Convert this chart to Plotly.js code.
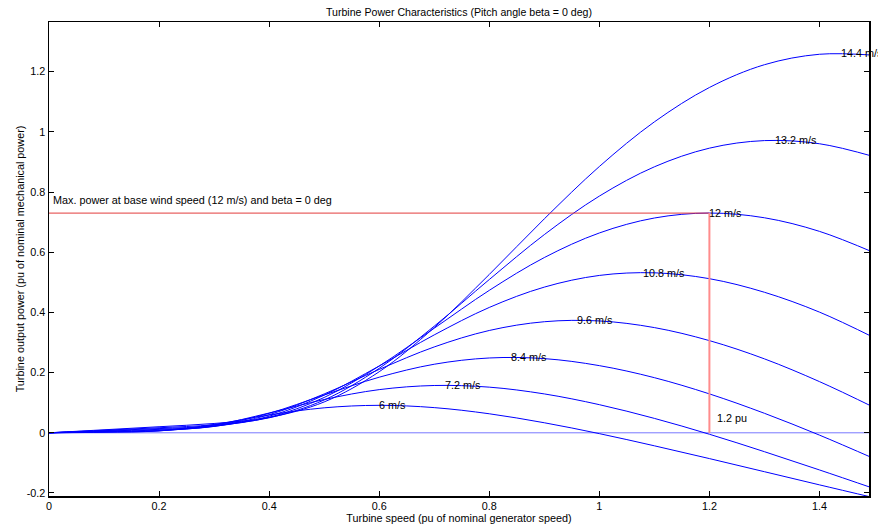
<!DOCTYPE html>
<html>
<head>
<meta charset="utf-8">
<script src="https://cdn.plot.ly/plotly-3.0.1.min.js"></script>
<style>html,body{margin:0;padding:0;background:#fff;}#chart{width:878px;height:528px;}</style>
</head>
<body>
<div id="chart"></div>
<script>
// Turbine speed (pu of nominal generator speed)
const speed = [0, 0.1, 0.2, 0.3, 0.4, 0.5, 0.6, 0.7, 0.8, 0.9, 1.0, 1.1, 1.2, 1.3, 1.4, 1.5];

// Turbine output power (pu) for each wind speed
const p6   = [0, 0.0018, 0.0064, 0.0277, 0.0592, 0.0830, 0.0913, 0.0837, 0.0632, 0.0334, -0.0028, -0.0432, -0.0857, -0.1293, -0.1730, -0.2161];
const p7_2 = [0, 0.0025, 0.0064, 0.0254, 0.0658, 0.1106, 0.1434, 0.1572, 0.1517, 0.1292, 0.0935, 0.0479, -0.0048, -0.0628, -0.1234, -0.1857];
const p8_4 = [0, 0.0034, 0.0074, 0.0226, 0.0648, 0.1255, 0.1847, 0.2278, 0.2486, 0.2465, 0.2232, 0.1832, 0.1293, 0.0648, -0.0077, -0.0863];
const p9_6 = [0, 0.0045, 0.0092, 0.0211, 0.0601, 0.1291, 0.2106, 0.2853, 0.3400, 0.3691, 0.3717, 0.3496, 0.3063, 0.2457, 0.1701, 0.0836];
const p10_8 = [0, 0.0057, 0.0114, 0.0215, 0.0550, 0.1251, 0.2220, 0.3253, 0.4165, 0.4841, 0.5229, 0.5316, 0.5121, 0.4670, 0.4010, 0.3155];
const p12  = [0, 0.0070, 0.0140, 0.0234, 0.0513, 0.1174, 0.2219, 0.3475, 0.4733, 0.5823, 0.6640, 0.7137, 0.7302, 0.7145, 0.6693, 0.5981];
const p13_2 = [0, 0.0085, 0.0168, 0.0268, 0.0498, 0.1091, 0.2142, 0.3543, 0.5092, 0.6585, 0.7865, 0.8838, 0.9458, 0.9710, 0.9605, 0.9172];
const p14_4 = [0, 0.0100, 0.0202, 0.0310, 0.0510, 0.1025, 0.2029, 0.3497, 0.5261, 0.7109, 0.8848, 1.0331, 1.1474, 1.2231, 1.2578, 1.2546];

const windLabels = ['6 m/s', '7.2 m/s', '8.4 m/s', '9.6 m/s', '10.8 m/s', '12 m/s', '13.2 m/s', '14.4 m/s'];
const peakSpeed = [0.6, 0.72, 0.84, 0.96, 1.08, 1.2, 1.32, 1.44];
const peakPower = [0.0913, 0.1577, 0.2504, 0.3738, 0.5322, 0.73, 0.9716, 1.2614];

// reference lines
const zeroX = [0, 1.5];
const zeroY = [0, 0];
const maxLineX = [0, 1.2];
const maxLineY = [0.73, 0.73];
const baseSpeedX = [1.2, 1.2];
const baseSpeedY = [0, 0.73];

const xTicks = [0, 0.2, 0.4, 0.6, 0.8, 1, 1.2, 1.4];
const yTicks = [-0.2, 0, 0.2, 0.4, 0.6, 0.8, 1, 1.2];

const series = [p6, p7_2, p8_4, p9_6, p10_8, p12, p13_2, p14_4];

const FONT = 'Liberation Sans, Arial, Helvetica, sans-serif';

const traces = [];
traces.push({x: zeroX, y: zeroY, mode: 'lines', line: {color: 'rgb(120,120,255)', width: 1}, hoverinfo: 'skip'});
series.forEach(function (s) {
  traces.push({x: speed, y: s, mode: 'lines', line: {color: '#0000ff', width: 1, shape: 'spline', smoothing: 1}, hoverinfo: 'skip'});
});
traces.push({x: maxLineX, y: maxLineY, mode: 'lines', line: {color: '#e23c3c', width: 1}, hoverinfo: 'skip'});
traces.push({x: baseSpeedX, y: baseSpeedY, mode: 'lines', line: {color: '#ff8c8c', width: 2}, hoverinfo: 'skip'});

const annotations = windLabels.map(function (t, i) {
  return {x: peakSpeed[i], y: peakPower[i], xref: 'x', yref: 'y', text: t, showarrow: false,
          xanchor: 'left', yanchor: 'middle', xshift: -2, font: {family: FONT, size: 10.8, color: '#000'}};
});
annotations.push({x: 0.008, y: 0.775, xref: 'x', yref: 'y', text: 'Max. power at base wind speed (12 m/s) and beta = 0 deg',
  showarrow: false, xanchor: 'left', yanchor: 'middle', xshift: -2, font: {family: FONT, size: 10.8, color: '#000'}});
annotations.push({x: 1.213, y: 0.048, xref: 'x', yref: 'y', text: '1.2 pu',
  showarrow: false, xanchor: 'left', yanchor: 'middle', xshift: -2, font: {family: FONT, size: 10.8, color: '#000'}});

const layout = {
  width: 878, height: 528,
  margin: {l: 49, r: 9, t: 22, b: 32, pad: 0},
  paper_bgcolor: '#fff', plot_bgcolor: '#fff',
  showlegend: false,
  font: {family: FONT, size: 10, color: '#000'},
  title: {text: 'Turbine Power Characteristics (Pitch angle beta = 0 deg)', font: {family: FONT, size: 10.6, color: '#000'},
          x: 0.5, xref: 'paper', y: 1 - 12 / 528, yref: 'container', yanchor: 'middle'},
  xaxis: {
    range: [0, 1.49], tickvals: xTicks, ticktext: xTicks.map(String),
    ticks: 'inside', ticklen: 5, tickcolor: '#000', tickwidth: 1,
    showline: true, linecolor: '#000', linewidth: 1.5, mirror: 'ticks',
    showgrid: false, zeroline: false, automargin: false,
    tickfont: {family: FONT, size: 10.8, color: '#000'},
    title: {text: 'Turbine speed (pu of nominal generator speed)', font: {family: FONT, size: 10.8, color: '#000'}, standoff: 3}
  },
  yaxis: {
    range: [-0.21, 1.365], tickvals: yTicks, ticktext: yTicks.map(String),
    ticks: 'inside', ticklen: 5, tickcolor: '#000', tickwidth: 1,
    showline: true, linecolor: '#000', linewidth: 1.5, mirror: 'ticks',
    showgrid: false, zeroline: false, automargin: false,
    tickfont: {family: FONT, size: 10.8, color: '#000'},
    title: {text: 'Turbine output power (pu of nominal mechanical power)', font: {family: FONT, size: 10.8, color: '#000'}, standoff: 0}
  },
  annotations: annotations
};

Plotly.newPlot('chart', traces, layout, {staticPlot: true, displayModeBar: false});
</script>
</body>
</html>
